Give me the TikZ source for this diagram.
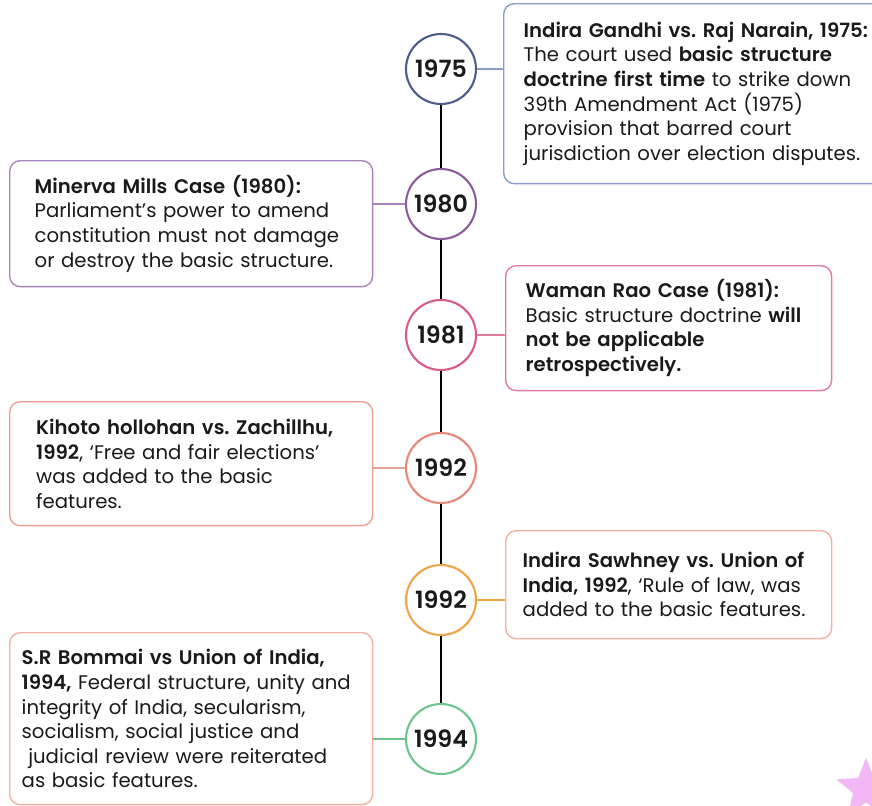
\documentclass[tikz,border=0pt]{standalone}
\usepackage{fontspec}
\setmainfont{Poppins}[BoldFont={Poppins SemiBold}]
\frenchspacing
\usetikzlibrary{shapes.geometric}

\definecolor{ink}{HTML}{1A1A1A}
\definecolor{ringA}{HTML}{4E5C8C}
\definecolor{lineA}{HTML}{8C9CC8}
\definecolor{ringB}{HTML}{8A5C9C}
\definecolor{lineB}{HTML}{AA84BC}
\definecolor{ringC}{HTML}{D85A88}
\definecolor{lineC}{HTML}{E27CA2}
\definecolor{ringD}{HTML}{E68878}
\definecolor{lineD}{HTML}{EBA094}
\definecolor{ringE}{HTML}{EFA446}
\definecolor{lineE}{HTML}{F0B2A2}
\definecolor{ringF}{HTML}{6CC48E}
\definecolor{starpink}{HTML}{F2B8F6}

\tikzset{
  year/.style={draw=#1, circle, line width=1.2pt, fill=white, minimum size=1.4cm,
    inner sep=0pt, text=ink, font=\fontsize{13.5}{15}\selectfont\bfseries},
  case/.style={draw=#1, rounded corners=6pt, line width=0.8pt, anchor=north west,
    align=left, text=ink, font=\fontsize{11.2}{14}\selectfont},
  link/.style={draw=#1, line width=0.8pt},
}

\begin{document}
\begin{tikzpicture}[x=0.02cm,y=-0.02cm]
\useasboundingbox (0,0) rectangle (872,805);
\clip (0,0) rectangle (872,805);

\node[year=ringA] (1) at (441,69) {1975};
\node[year=ringB] (2) at (441,204) {1980};
\node[year=ringC] (3) at (441,335) {1981};
\node[year=ringD] (4) at (441,468) {1992};
\node[year=ringE] (5) at (441,600) {1992};
\node[year=ringF] (6) at (441,739) {1994};

\path[draw,line width=1.7pt,-] (1) -- (2);
\path[draw,line width=1.7pt,-] (2) -- (3);
\path[draw,line width=1.7pt,-] (3) -- (4);
\path[draw,line width=1.7pt,-] (4) -- (5);
\path[draw,line width=1.7pt,-] (5) -- (6);

\node[case=lineA, minimum height=3.6cm, inner xsep=0.4cm, text width=7.2cm] (b1) at (503,3)
  {\textbf{Indira Gandhi vs. Raj Narain, 1975:}\\
   The court used \textbf{basic structure}\\
   \textbf{doctrine first time} to strike down\\
   39th Amendment Act (1975)\\
   provision that barred court\\
   jurisdiction over election disputes.};
\node[case=lineB, minimum height=2.52cm, inner xsep=0.5cm, text width=6.26cm] (b2) at (9,160)
  {\textbf{Minerva Mills Case (1980):}\\
   Parliament’s power to amend\\
   constitution must not damage\\
   or destroy the basic structure.};
\node[case=lineC, minimum height=2.5cm, inner xsep=0.4cm, text width=5.72cm] (b3) at (505,265)
  {\textbf{Waman Rao Case (1981):}\\
   Basic structure doctrine \textbf{will}\\
   \textbf{not be applicable}\\
   \textbf{retrospectively.}};
\node[case=lineD, minimum height=2.48cm, inner xsep=0.53cm, text width=6.2cm] (b4) at (9,401)
  {\textbf{Kihoto hollohan vs. Zachillhu,}\\
   \textbf{1992}, ‘Free and fair elections’\\
   was added to the basic\\
   features.};
\node[case=lineE, minimum height=2.16cm, inner xsep=0.34cm, text width=5.84cm] (b5) at (505,530)
  {\textbf{Indira Sawhney vs. Union of}\\
   \textbf{India, 1992}, ‘Rule of law, was\\
   added to the basic features.};
\node[case=lineE, minimum height=3.44cm, inner xsep=0.24cm, text width=6.78cm] (b6) at (9,632)
  {\textbf{S.R Bommai vs Union of India,}\\
   \textbf{1994,} Federal structure, unity and\\
   integrity of India, secularism,\\
   socialism, social justice and\\
   \ judicial review were reiterated\\
   as basic features.};

\path[link=lineA] (1.east) -- (1.east -| b1.west);
\path[link=lineB] (2.west) -- (2.west -| b2.east);
\path[link=lineC] (3.east) -- (3.east -| b3.west);
\path[link=lineD] (4.west) -- (4.west -| b4.east);
\path[link=ringE] (5.east) -- (5.east -| b5.west);
\path[link=ringF] (6.west) -- (6.west -| b6.east);

\node[star, star points=5, star point ratio=2.3, fill=starpink, minimum size=1.25cm, inner sep=0pt] (deco) at (866,789) {};
\end{tikzpicture}
\end{document}
